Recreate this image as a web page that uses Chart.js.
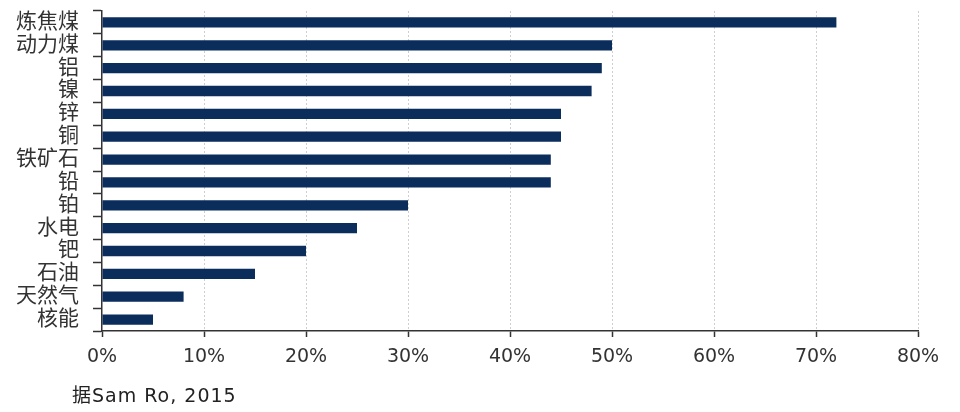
<!DOCTYPE html>
<html>
<head>
<meta charset="utf-8">
<script src="https://cdn.jsdelivr.net/npm/chart.js@4/dist/chart.umd.min.js"></script>
<style>
  html, body { margin: 0; padding: 0; background: #fff; }
  #wrap { position: relative; width: 960px; height: 412px; }
  #c { position: absolute; left: 0; top: 0; }
  #src { position: absolute; left: 72px; top: 383px; font-family: "DejaVu Sans", "Noto Sans CJK SC", sans-serif; font-size: 19px; letter-spacing: 1px; color: #222; white-space: nowrap; line-height: 24px; }
</style>
</head>
<body>
<div id="wrap">
  <canvas id="c" width="960" height="412"></canvas>
  <div id="src">据Sam Ro, 2015</div>
</div>
<script>
const categories = ["炼焦煤", "动力煤", "铝", "镍", "锌", "铜", "铁矿石", "铅", "铂", "水电", "钯", "石油", "天然气", "核能"];
const values = [72, 50, 49, 48, 45, 45, 44, 44, 30, 25, 20, 15, 8, 5];
const xTicks = [0, 10, 20, 30, 40, 50, 60, 70, 80];

const FONT = "'DejaVu Sans', 'Noto Sans CJK SC', sans-serif";

new Chart(document.getElementById('c'), {
  type: 'bar',
  data: {
    labels: categories,
    datasets: [{
      data: values,
      backgroundColor: '#0b2d5c',
      borderWidth: 0,
      barPercentage: 0.45,
      categoryPercentage: 1.0
    }]
  },
  options: {
    indexAxis: 'y',
    responsive: false,
    animation: false,
    devicePixelRatio: 1,
    layout: { padding: { left: 0, right: 42, top: 11, bottom: 31 } },
    plugins: { legend: { display: false }, tooltip: { enabled: false } },
    scales: {
      x: {
        min: xTicks[0],
        max: xTicks[xTicks.length - 1],
        afterBuildTicks: (s) => { s.ticks = xTicks.map(v => ({ value: v })); },
        afterFit: (s) => { s.height = 50; s.paddingLeft = 0; s.paddingRight = 0; },
        grid: {
          color: (ctx) => ctx.tick && ctx.tick.value === 0 ? 'rgba(0,0,0,0)' : '#cfcfcf',
          lineWidth: 1,
          drawOnChartArea: true,
          drawTicks: true,
          tickLength: 6,
          tickColor: '#333',
          tickWidth: 1.5
        },
        border: { display: true, color: '#333', width: 1.5, dash: [2, 2] },
        ticks: {
          color: '#333',
          font: { family: FONT, size: 19 },
          padding: 9,
          maxRotation: 0,
          callback: (v) => v + '%'
        }
      },
      y: {
        afterFit: (s) => { s.width = 102; s.paddingTop = 0; s.paddingBottom = 0; },
        grid: {
          offset: true,
          drawOnChartArea: false,
          drawTicks: true,
          tickLength: 9,
          tickColor: '#333',
          tickWidth: 1.5
        },
        border: { display: true, color: '#333', width: 1.5 },
        ticks: {
          color: '#333',
          autoSkip: false,
          font: { family: FONT, size: 21 },
          padding: 14
        }
      }
    }
  }
});
</script>
</body>
</html>
